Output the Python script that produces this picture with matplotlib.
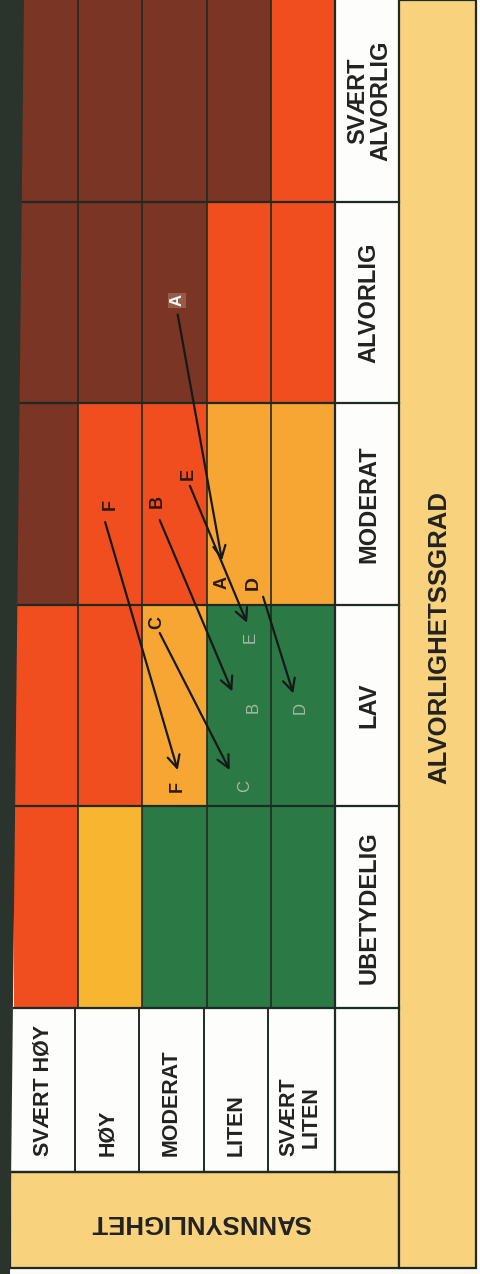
import matplotlib.pyplot as plt
from matplotlib.patches import Rectangle, Polygon

plt.rcParams['font.family'] = ['Liberation Sans Narrow', 'Liberation Sans', 'DejaVu Sans']

# Risikomatrise (rotert): rader = alvorlighetsgrad, kolonner = sannsynlighet
alvorlighet = ['SVÆRT\nALVORLIG', 'ALVORLIG', 'MODERAT', 'LAV', 'UBETYDELIG']
sannsynlighet = ['SVÆRT HØY', 'HØY', 'MODERAT', 'LITEN', 'SVÆRT\nLITEN']

# 0 = grønn, 1 = oransje, 2 = gul, 3 = rød, 4 = brun
risiko = [
    [4, 4, 4, 4, 3],
    [4, 4, 4, 3, 3],
    [4, 3, 3, 1, 1],
    [3, 3, 1, 0, 0],
    [3, 2, 0, 0, 0],
]
farger = {0: '#2b7a45', 1: '#f7a634', 2: '#f8b630', 3: '#f14e1f', 4: '#7a3524'}

# Hendelser: bokstav, startposisjon, pil (fra -> til), sluttposisjon (i matriseenheter: kolonne, rad)
hendelser = ['A', 'E', 'F', 'B', 'C', 'D']
start_pos = [(2.54, 1.49), (2.71, 2.35), (1.50, 2.50), (2.23, 2.49), (2.23, 3.09), (3.72, 2.89)]
pil_fra = [(2.55, 1.56), (2.74, 2.41), (1.42, 2.59), (2.27, 2.58), (2.27, 3.14), (3.88, 2.96)]
pil_til = [(3.24, 2.78), (3.63, 3.09), (2.55, 3.82), (3.40, 3.43), (3.36, 3.82), (4.35, 3.44)]
slutt_pos = [(3.24, 2.89), (3.68, 3.16), (2.55, 3.90), (3.72, 3.51), (3.60, 3.90), (4.45, 3.51)]
slutt_tydelig = [True, False, True, False, False, False]

W, H = 481, 1274
X0, CW, RH = 14, 64.2, 201.6
X_LAB = X0 + 5 * CW      # start på kolonnen med alvorlighetsnavn
X_BAND = 399             # gult felt til høyre
X_END = 476
Y_MAT = 5 * RH
Y_LAB = 1172
Y_END = 1268
LINJE = '#1f2a22'


def px(u):
    return X0 + u * CW


def py(v):
    return v * RH


fig = plt.figure(figsize=(W / 100, H / 100), dpi=100)
ax = fig.add_axes([0, 0, 1, 1])
ax.set_xlim(0, W)
ax.set_ylim(H, 0)
ax.axis('off')
fig.patch.set_facecolor('#fbfaf6')

# celler
for r in range(5):
    for c in range(5):
        ax.add_patch(Rectangle((px(c), py(r)), CW, RH, facecolor=farger[risiko[r][c]],
                               edgecolor='none', zorder=1))
for c in range(1, 5):
    ax.plot([px(c), px(c)], [0, Y_MAT], color=LINJE, lw=1.2, zorder=2)
for r in range(1, 6):
    ax.plot([X0, X_BAND], [py(r), py(r)], color=LINJE, lw=1.6, zorder=2)

# kolonne med alvorlighetsnavn
ax.add_patch(Rectangle((X_LAB, 0), X_BAND - X_LAB, Y_MAT, facecolor='#fdfdfb', edgecolor='none', zorder=1))
for r, navn in enumerate(alvorlighet):
    ax.text((X_LAB + X_BAND) / 2 + 2, py(r + 0.5), navn, rotation=90, ha='center', va='center',
            fontsize=17, fontweight='bold', color='#222222', linespacing=1.0, zorder=3)

# rad med sannsynlighetsnavn
ax.add_patch(Rectangle((10, Y_MAT), X_BAND - 10, Y_LAB - Y_MAT, facecolor='#fdfdfb', edgecolor='none', zorder=1))
for c in range(1, 5):
    ax.plot([px(c) - 3, px(c) - 3], [Y_MAT, Y_LAB], color=LINJE, lw=1.4, zorder=2)
for c, navn in enumerate(sannsynlighet):
    ax.text(px(c + 0.5) - 3, Y_LAB - 16, navn, rotation=90, ha='center', va='bottom',
            fontsize=15.5, fontweight='bold', color='#222222', linespacing=1.05, zorder=3)

# gule felt
ax.add_patch(Rectangle((10, Y_LAB), X_BAND - 10, Y_END - Y_LAB, facecolor='#f8d27c', edgecolor=LINJE,
                       lw=1.6, zorder=1))
ax.add_patch(Rectangle((X_BAND, 0), X_END - X_BAND, Y_END, facecolor='#f8d27c', edgecolor=LINJE,
                       lw=1.6, zorder=1))
ax.plot([X_LAB, X_LAB], [0, Y_LAB], color=LINJE, lw=1.6, zorder=2)
ax.plot([10, X_BAND], [Y_LAB, Y_LAB], color=LINJE, lw=1.6, zorder=2)
ax.text((X_BAND + X_END) / 2 + 2, 638, 'ALVORLIGHETSSGRAD', rotation=90, ha='center', va='center',
        fontsize=18.5, fontweight='bold', color='#222222', zorder=3)
ax.text(201, 1222, 'SANNSYNLIGHET', rotation=180, ha='center', va='center',
        fontsize=18.5, fontweight='bold', color='#222222', zorder=3)

# mørk kant til venstre
ax.add_patch(Polygon([(0, 0), (24, 0), (10, H), (0, H)], closed=True, facecolor='#2a342c',
                     edgecolor='none', zorder=4))

# piler og bokstaver
for i, b in enumerate(hendelser):
    (u0, v0), (u1, v1) = pil_fra[i], pil_til[i]
    ax.annotate('', xy=(px(u1), py(v1)), xytext=(px(u0), py(v0)),
                arrowprops=dict(arrowstyle='->', color='#151a16', lw=1.6, mutation_scale=22,
                                shrinkA=0, shrinkB=0), zorder=5)
    su, sv = start_pos[i]
    if b == 'A':
        ax.text(px(su), py(sv), b, rotation=90, ha='center', va='center', fontsize=12,
                fontweight='bold', color='white', zorder=6,
                bbox=dict(boxstyle='square,pad=0.1', facecolor='#9a5a48', edgecolor='none'))
    else:
        ax.text(px(su), py(sv), b, rotation=90, ha='center', va='center', fontsize=14 if b == 'D' else 13,
                fontweight='bold', color='#2a1a12', zorder=6)
    eu, ev = slutt_pos[i]
    if slutt_tydelig[i]:
        ax.text(px(eu), py(ev), b, rotation=90, ha='center', va='center', fontsize=13,
                fontweight='bold', color='#2a1a12', zorder=6)
    else:
        ax.text(px(eu), py(ev), b, rotation=90, ha='center', va='center', fontsize=12,
                color='#a8b9a4', zorder=6)

fig.savefig('out.png', dpi=100)
